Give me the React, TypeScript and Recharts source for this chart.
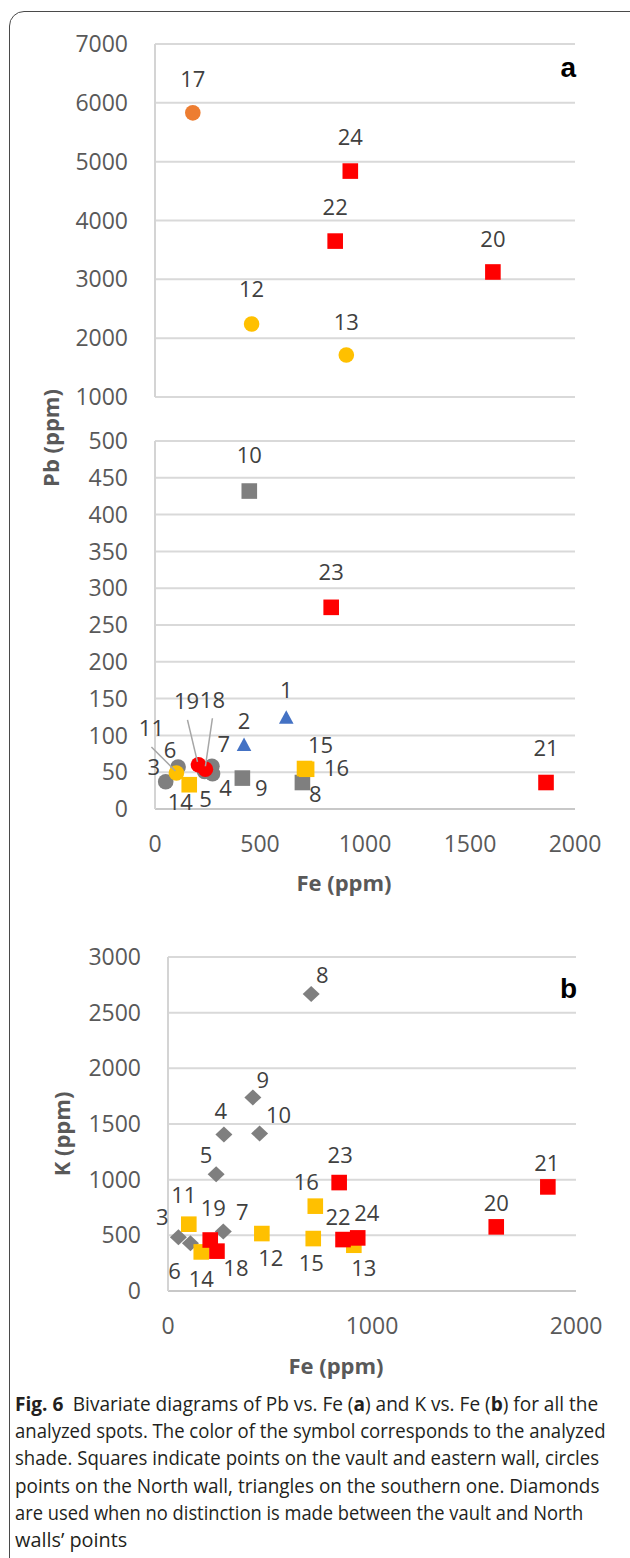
import React, { useLayoutEffect, useRef, useState } from "react";
import { ScatterChart, Scatter, XAxis, YAxis, CartesianGrid } from "recharts";

// spot numbers and measured values (ppm)
const spots = [1, 2, 3, 4, 5, 6, 7, 8, 9, 10, 11, 12, 13, 14, 15, 16, 17, 18, 19, 20, 21, 22, 23, 24];
const fe = [625, 424, 51, 274, 236, 110, 271, 702, 416, 449, 102, 460, 911, 163, 712, 722, 180, 240, 207, 1609, 1862, 858, 839, 930];
const pb = [125, 88, 37, 48, 51, 57, 58, 36, 42, 432, 49, 2240, 1715, 33, 55, 54, 5830, 54, 60, 3125, 36, 3650, 274, 4840];
const k = [null, null, 482, 1406, 1049, 428, 534, 2668, 1739, 1415, 600, 516, 411, 351, 471, 762, null, 358, 458, 576, 935, 462, 974, 477];

const pbTicksHigh = [1000, 2000, 3000, 4000, 5000, 6000, 7000];
const pbTicksLow = [0, 50, 100, 150, 200, 250, 300, 350, 400, 450, 500];
const feTicksA = [0, 500, 1000, 1500, 2000];
const kTicks = [0, 500, 1000, 1500, 2000, 2500, 3000];
const feTicksB = [0, 1000, 2000];

const GREY = "#7f7f7f", RED = "#ff0000", YELLOW = "#ffc000", ORANGE = "#ed7d31", BLUE = "#4472c4";

const groupsA = [
  { ids: [3, 4, 5, 6, 7], shape: "circle", color: GREY },
  { ids: [8, 9, 10], shape: "square", color: GREY },
  { ids: [1, 2], shape: "triangle", color: BLUE },
  { ids: [11, 12, 13], shape: "circle", color: YELLOW },
  { ids: [14, 15, 16], shape: "square", color: YELLOW },
  { ids: [17], shape: "circle", color: ORANGE },
  { ids: [18, 19], shape: "circle", color: RED },
  { ids: [20, 21, 22, 23, 24], shape: "square", color: RED },
];
const groupsB = [
  { ids: [3, 4, 5, 6, 7, 8, 9, 10], shape: "diamond", color: GREY },
  { ids: [11, 12, 13, 14, 15, 16], shape: "square", color: YELLOW },
  { ids: [18, 19, 20, 21, 22, 23, 24], shape: "square", color: RED },
];

// label offsets from the marker centre (px)
const labelA: Record<number, [number, number]> = {
  1: [0, -27], 2: [0, -23], 3: [-12, -15], 4: [13, 14], 5: [1, 28], 6: [-8, -17], 7: [12, -22], 8: [13, 12],
  9: [19, 10], 10: [0, -36], 11: [-25, -45], 12: [0, -35], 13: [0, -33], 14: [-9, 17], 15: [16, -23], 16: [30, -1],
  17: [0, -34], 18: [7, -69], 19: [-12, -64], 20: [0, -33], 21: [0, -34], 22: [0, -34], 23: [0, -35], 24: [0, -34],
};
const leadersA: Record<number, [number, number, number, number]> = {
  11: [-25, -26, -1, -2], 19: [-11, -45, -1, -3], 18: [7, -51, 0, -3],
};
const labelB: Record<number, [number, number]> = {
  3: [-16, -20], 4: [-3, -23], 5: [-10, -19], 6: [-16, 28], 7: [19, -19], 8: [11, -19], 9: [10, -17], 10: [19, -18],
  11: [-5, -29], 12: [9, 25], 13: [10, 23], 14: [0, 27], 15: [-2, 25], 16: [-9, -24], 18: [19, 17], 19: [3, -32],
  20: [0, -24], 21: [-1, -24], 22: [-5, -22], 23: [1, -27], 24: [9, -25],
};

const caption: [string, boolean][][] = [
  [["Fig. 6", true], ["\u2002Bivariate diagrams of Pb vs. Fe (", false], ["a", true], [") and K vs. Fe (", false], ["b", true], [") for all the", false]],
  [["analyzed spots. The color of the symbol corresponds to the analyzed", false]],
  [["shade. Squares indicate points on the vault and eastern wall, circles", false]],
  [["points on the North wall, triangles on the southern one. Diamonds", false]],
  [["are used when no distinction is made between the vault and North", false]],
  [["walls\u2019 points", false]],
];
const captionWidths = [583, 591, 584, 584, 568, 112];

const FONT = "'Open Sans', 'Noto Sans', sans-serif";
const tickStyle = { fontSize: 23, fill: "#595959", fontFamily: FONT };

const pts = (ids: number[], yv: (number | null)[]) =>
  ids.filter(id => yv[id - 1] != null).map(id => ({ id, x: fe[id - 1], y: yv[id - 1] as number }));

const marker = (shape: string, color: string) => (p: any) => {
  const { cx, cy } = p;
  if (cx == null || cy == null) return <g />;
  if (shape === "circle") return <circle cx={cx} cy={cy} r={7.8} fill={color} />;
  if (shape === "square") return <rect x={cx - 7.8} y={cy - 7.8} width={15.6} height={15.6} fill={color} />;
  if (shape === "triangle")
    return <polygon points={`${cx},${cy - 6.7} ${cx + 7.3},${cy + 6.7} ${cx - 7.3},${cy + 6.7}`} fill={color} />;
  return <polygon points={`${cx},${cy - 8} ${cx + 8.5},${cy} ${cx},${cy + 8} ${cx - 8.5},${cy}`} fill={color} />;
};

const labeler = (offs: Record<number, [number, number]>, leaders: Record<number, [number, number, number, number]>) => (p: any) => {
  const { cx, cy, payload } = p;
  const id = payload.id;
  const [dx, dy] = offs[id] || [0, -34];
  const l = leaders[id];
  return (
    <g>
      {l && <line x1={cx + l[0]} y1={cy + l[1]} x2={cx + l[2]} y2={cy + l[3]} stroke="#a6a6a6" strokeWidth={1.5} />}
      <text x={cx + dx} y={cy + dy} dy="0.357em" textAnchor="middle" fontSize={22} fill="#404040" fontFamily={FONT}>
        {id}
      </text>
    </g>
  );
};

function Panel(props: {
  top: number; height: number; margin: any; yWidth: number; yDomain: number[]; yTicks: number[];
  xTicks: number[]; showX: boolean; groups: any[]; yv: (number | null)[]; filter: (v: number) => boolean;
  offs: Record<number, [number, number]>; leaders: Record<number, [number, number, number, number]>;
}) {
  const keep = (d: { y: number }) => props.filter(d.y);
  const all = props.groups.flatMap(g => pts(g.ids, props.yv)).filter(keep);
  return (
    <div style={{ position: "absolute", left: 0, top: props.top }}>
      <ScatterChart width={630} height={props.height} margin={props.margin} style={{ fontFamily: FONT }}>
        <CartesianGrid horizontal vertical={false} stroke="#d9d9d9" strokeWidth={2} />
        <XAxis type="number" dataKey="x" domain={[0, 2000]} ticks={props.xTicks} hide={!props.showX} height={30}
          axisLine={{ stroke: "#c8c8c8", strokeWidth: 2 }} tickLine={false} tick={tickStyle} tickMargin={21} interval={0} />
        <YAxis type="number" dataKey="y" domain={props.yDomain} ticks={props.yTicks} width={props.yWidth}
          axisLine={{ stroke: "#d4d4d4", strokeWidth: 2 }} tickLine={false} tick={tickStyle} tickMargin={21} interval={0} />
        {props.groups.map((g, i) => (
          <Scatter key={i} data={pts(g.ids, props.yv).filter(keep)} shape={marker(g.shape, g.color)} isAnimationActive={false} />
        ))}
        <Scatter data={all} shape={labeler(props.offs, props.leaders)} isAnimationActive={false} />
      </ScatterChart>
    </div>
  );
}

// one caption line, squeezed horizontally to the width it has in the figure
function CaptionLine({ parts, width, top }: { parts: [string, boolean][]; width: number; top: number }) {
  const ref = useRef<HTMLDivElement>(null);
  const [s, setS] = useState(1);
  useLayoutEffect(() => {
    if (ref.current) setS(width / ref.current.scrollWidth);
  }, [width]);
  return (
    <div ref={ref} style={{
      position: "absolute", left: 15, top, width: "max-content", whiteSpace: "nowrap", fontFamily: FONT,
      fontSize: 19.5, lineHeight: "26px", color: "#231f20", transform: `scaleX(${s})`, transformOrigin: "0 0",
    }}>
      {parts.map(([t, b], j) => (
        <span key={j} style={{ fontWeight: b ? 700 : 400 }}>{t}</span>
      ))}
    </div>
  );
}

export default function App() {
  return (
    <div style={{ position: "absolute", left: 0, top: 0, width: 630, height: 1558, overflow: "hidden", background: "#fff" }}>
      <div style={{ position: "absolute", left: 9, top: 11, width: 700, height: 1600, border: "1.5px solid #4a4a4a", borderRadius: 15, boxSizing: "border-box" }} />

      <Panel top={0} height={420} margin={{ top: 44, right: 55, bottom: 23, left: 0 }} yWidth={155}
        yDomain={[1000, 7000]} yTicks={pbTicksHigh} xTicks={feTicksA} showX={false} groups={groupsA} yv={pb}
        filter={v => v >= 1000} offs={labelA} leaders={leadersA} />
      <Panel top={400} height={500} margin={{ top: 41, right: 55, bottom: 61, left: 0 }} yWidth={155}
        yDomain={[0, 500]} yTicks={pbTicksLow} xTicks={feTicksA} showX groups={groupsA} yv={pb}
        filter={v => v <= 500} offs={labelA} leaders={leadersA} />
      <Panel top={900} height={440} margin={{ top: 57, right: 54, bottom: 19, left: 0 }} yWidth={168}
        yDomain={[0, 3000]} yTicks={kTicks} xTicks={feTicksB} showX groups={groupsB} yv={k}
        filter={() => true} offs={labelB} leaders={{}} />

      <svg width={630} height={1380} style={{ position: "absolute", left: 0, top: 0, pointerEvents: "none" }}>
        <g fontFamily={FONT} fontWeight={700} fontSize={22} fill="#595959" textAnchor="middle">
          <text transform="translate(51,438) rotate(-90)" dy="0.35em">Pb (ppm)</text>
          <text transform="translate(62,1134) rotate(-90)" dy="0.35em">K (ppm)</text>
          <text x={344} y={883} dy="0.35em">Fe (ppm)</text>
          <text x={336} y={1366} dy="0.35em">Fe (ppm)</text>
        </g>
        <g fontFamily="'Liberation Sans', Arial, sans-serif" fontWeight={700} fontSize={28} fill="#000" textAnchor="end">
          <text x={576} y={77}>a</text>
          <text x={577} y={998}>b</text>
        </g>
      </svg>

      {caption.map((line, i) => (
        <CaptionLine key={i} parts={line} width={captionWidths[i]} top={1391 + 27.2 * i} />
      ))}
    </div>
  );
}
